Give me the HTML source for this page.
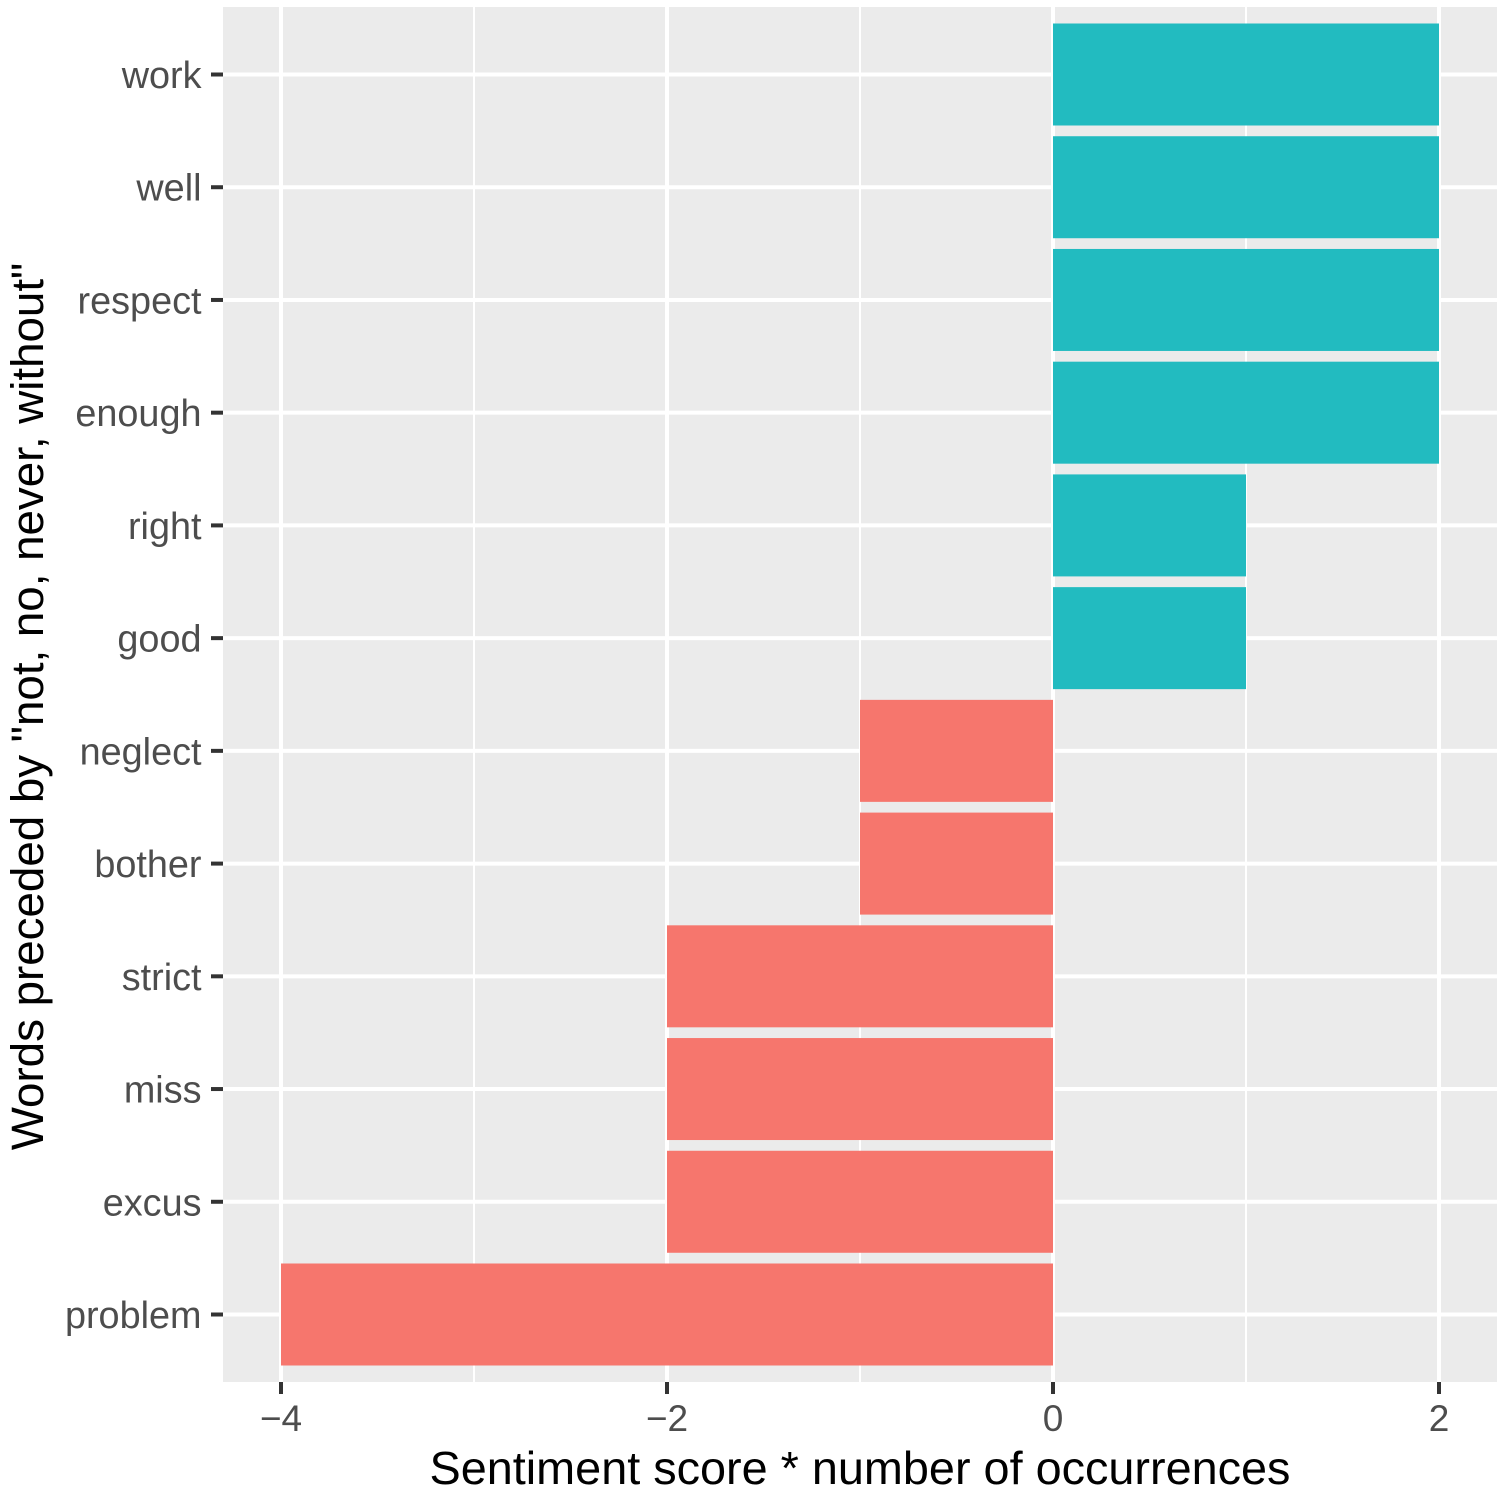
<!DOCTYPE html>
<html>
<head>
<meta charset="utf-8">
<title>Sentiment chart</title>
<style>
html,body{margin:0;padding:0;background:#fff;width:1500px;height:1491px;overflow:hidden}
svg{display:block}
text{font-family:"Liberation Sans",Arial,sans-serif}
</style>
</head>
<body>
<svg id="chart" width="1500" height="1491" viewBox="0 0 1500 1491" xmlns="http://www.w3.org/2000/svg">
  <rect x="223" y="7" width="1274" height="1375" fill="#ebebeb"/>
  <g id="grid"></g>
  <g id="bars"></g>
  <g id="axes"></g>
  <text x="860" y="1484" text-anchor="middle" font-size="46.8" fill="#000">Sentiment score * number of occurrences</text>
  <text transform="translate(43,706.5) rotate(-90)" text-anchor="middle" font-size="45.7" fill="#000">Words preceded by "not, no, never, without"</text>
</svg>
<script>
const words = ["work","well","respect","enough","right","good","neglect","bother","strict","miss","excus","problem"];
const scores = [2,2,2,2,1,1,-1,-1,-2,-2,-2,-4];
const xTicks = [-4,-2,0,2];
const xMinorTicks = [-3,-1,1];

const NS = "http://www.w3.org/2000/svg";
const panel = {left:223,right:1497,top:7,bottom:1382};
function xScale(v){ return 1053 + v * 193; }
function yScale(i){ return 74.5 + i * (1314.5 - 74.5) / 11; }
const barHalf = 51;

function mk(parent, tag, attrs){
  const el = document.createElementNS(NS, tag);
  for (const k in attrs) el.setAttribute(k, attrs[k]);
  document.getElementById(parent).appendChild(el);
  return el;
}

xMinorTicks.forEach(function(v){
  const el = mk("grid","line",{x1:xScale(v),x2:xScale(v),y1:panel.top,y2:panel.bottom,stroke:"#fff","stroke-width":2});
  
  
});
xTicks.forEach(function(v){
  const el = mk("grid","line",{x1:xScale(v),x2:xScale(v),y1:panel.top,y2:panel.bottom,stroke:"#fff","stroke-width":4});
  
  
});
words.forEach(function(w,i){
  const el = mk("grid","line",{x1:panel.left,x2:panel.right,y1:yScale(i),y2:yScale(i),stroke:"#fff","stroke-width":4});
  
  
});

words.forEach(function(w,i){
  const v = scores[i];
  const x0 = Math.min(xScale(0), xScale(v));
  const x1 = Math.max(xScale(0), xScale(v));
  const bar = mk("bars","rect",{x:x0,y:yScale(i)-barHalf,width:x1-x0,height:barHalf*2,fill:v>=0?"#22bbc0":"#f6766d"});
  
  

  const tick = mk("axes","line",{x1:panel.left-12,x2:panel.left,y1:yScale(i),y2:yScale(i),stroke:"#333","stroke-width":4});
  
  

  const lab = mk("axes","text",{x:201.5,y:yScale(i)+13.5,"text-anchor":"end","font-size":37.8,fill:"#4d4d4d"});
  lab.textContent = w;
  
  
});

xTicks.forEach(function(v){
  const tick = mk("axes","line",{x1:xScale(v),x2:xScale(v),y1:panel.bottom,y2:panel.bottom+12,stroke:"#333","stroke-width":4});
  
  

  const lab = mk("axes","text",{x:xScale(v),y:1431,"text-anchor":"middle","font-size":37,fill:"#4d4d4d"});
  lab.textContent = (v < 0 ? "\u2212" : "") + Math.abs(v);
  
  
});
</script>
</body>
</html>
